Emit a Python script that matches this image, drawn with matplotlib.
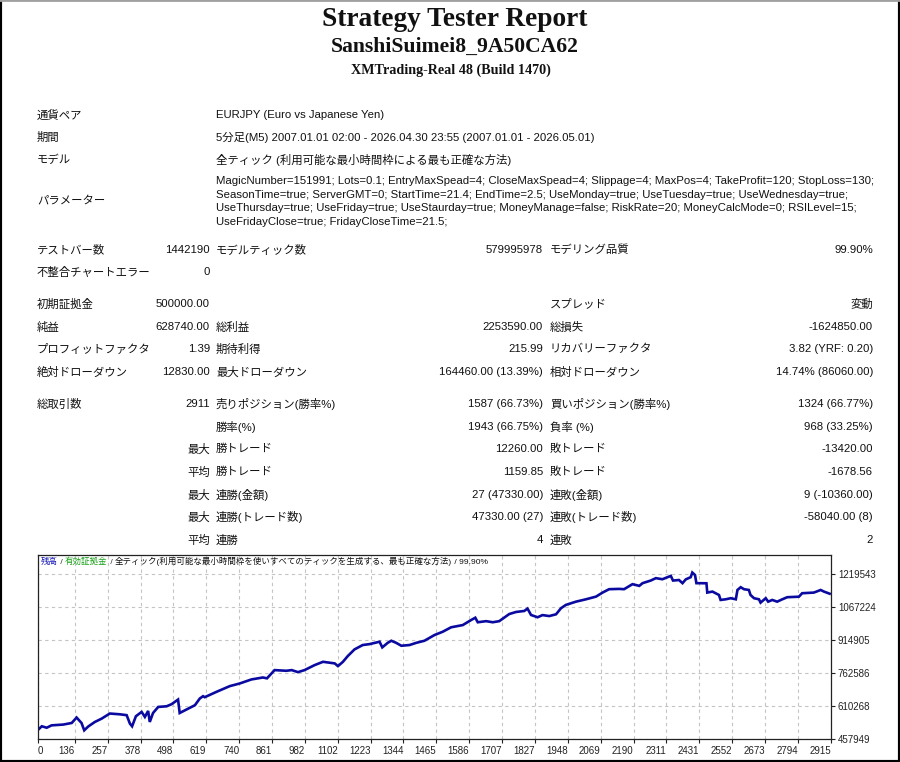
import matplotlib.pyplot as plt
from matplotlib.lines import Line2D
from matplotlib.offsetbox import TextArea, HPacker, AnchoredOffsetbox

W, H = 900, 762

# header
title = 'Strategy Tester Report'
ea_name = 'SanshiSuimei8_9A50CA62'
server = 'XMTrading-Real 48 (Build 1470)'

# settings block
info_labels = ['通貨ペア', '期間', 'モデル']
info_values = [
    'EURJPY (Euro vs Japanese Yen)',
    '5分足(M5) 2007.01.01 02:00 - 2026.04.30 23:55 (2007.01.01 - 2026.05.01)',
    '全ティック (利用可能な最小時間枠による最も正確な方法)',
]
param_label = 'パラメーター'
param_lines = [
    'MagicNumber=151991; Lots=0.1; EntryMaxSpead=4; CloseMaxSpead=4; Slippage=4; MaxPos=4; TakeProfit=120; StopLoss=130;',
    'SeasonTime=true; ServerGMT=0; StartTime=21.4; EndTime=2.5; UseMonday=true; UseTuesday=true; UseWednesday=true;',
    'UseThursday=true; UseFriday=true; UseStaurday=true; MoneyManage=false; RiskRate=20; MoneyCalcMode=0; RSILevel=15;',
    'UseFridayClose=true; FridayCloseTime=21.5;',
]

# results table: label1, value1, label2, value2, label3, value3
stat_rows = [
    ('テストバー数', '1442190', 'モデルティック数', '579995978', 'モデリング品質', '99.90%'),
    ('不整合チャートエラー', '0', '', '', '', ''),
    ('初期証拠金', '500000.00', '', '', 'スプレッド', '変動'),
    ('純益', '628740.00', '総利益', '2253590.00', '総損失', '-1624850.00'),
    ('プロフィットファクタ', '1.39', '期待利得', '215.99', 'リカバリーファクタ', '3.82 (YRF: 0.20)'),
    ('絶対ドローダウン', '12830.00', '最大ドローダウン', '164460.00 (13.39%)', '相対ドローダウン', '14.74% (86060.00)'),
    ('総取引数', '2911', '売りポジション(勝率%)', '1587 (66.73%)', '買いポジション(勝率%)', '1324 (66.77%)'),
    ('', '', '勝率(%)', '1943 (66.75%)', '負率 (%)', '968 (33.25%)'),
    ('', '最大', '勝トレード', '12260.00', '敗トレード', '-13420.00'),
    ('', '平均', '勝トレード', '1159.85', '敗トレード', '-1678.56'),
    ('', '最大', '連勝(金額)', '27 (47330.00)', '連敗(金額)', '9 (-10360.00)'),
    ('', '最大', '連勝(トレード数)', '47330.00 (27)', '連敗(トレード数)', '-58040.00 (8)'),
    ('', '平均', '連勝', '4', '連敗', '2'),
]
row_y = [250, 272, 304, 327, 349, 372, 404, 427, 449, 472, 495, 517, 540]

# balance curve
trades = [0, 14, 32, 50, 93, 124, 142, 160, 170, 185, 209, 234, 264, 301, 326,
          338, 346, 360, 381, 393, 405, 411, 423, 442, 473, 491, 515, 521, 546,
          577, 595, 607, 613, 656, 705, 742, 785, 827, 842, 870, 913, 933, 956,
          980, 1017, 1048, 1072, 1091, 1103, 1121, 1139, 1164, 1194, 1219, 1256,
          1266, 1286, 1299, 1317, 1336, 1366, 1391, 1421, 1458, 1488, 1519, 1562,
          1593, 1608, 1617, 1648, 1672, 1696, 1733, 1758, 1788, 1800, 1813, 1837,
          1855, 1880, 1905, 1923, 1941, 1978, 2015, 2052, 2076, 2100, 2137, 2155,
          2186, 2211, 2223, 2253, 2272, 2296, 2321, 2327, 2335, 2357, 2370, 2382,
          2400, 2406, 2416, 2421, 2458, 2461, 2480, 2504, 2510, 2529, 2547, 2566,
          2572, 2584, 2596, 2614, 2620, 2633, 2651, 2657, 2676, 2685, 2700, 2718,
          2737, 2755, 2798, 2810, 2853, 2878, 2890, 2911]
balance = [500000, 516700, 510000, 521000, 524600, 532000, 557000, 532000, 498000,
           516000, 536600, 552000, 575500, 572000, 568000, 529000, 516700, 563000,
           583000, 560000, 587600, 536600, 578000, 606000, 609000, 618600, 640000,
           578000, 594000, 614000, 645000, 655600, 651000, 675500, 702000, 714400,
           733000, 742000, 738000, 776000, 773000, 776000, 766700, 776000, 799000,
           814400, 810000, 807000, 794500, 814000, 840800, 871800, 891800, 896000,
           907000, 881000, 902000, 911600, 902000, 888500, 891800, 902000, 911600,
           938000, 953000, 973700, 984000, 1007500, 1018000, 997000, 1002000,
           997000, 1002000, 1035000, 1044500, 1049000, 1060000, 1030600, 1020000,
           1030000, 1025600, 1033800, 1061600, 1077000, 1092000, 1103000, 1115400,
           1134000, 1149600, 1151000, 1149600, 1172800, 1165000, 1177400, 1189500,
           1200600, 1195600, 1208000, 1211000, 1189500, 1192000, 1177400, 1195000,
           1205000, 1226500, 1215000, 1177400, 1177000, 1134000, 1138600, 1123000,
           1100000, 1103000, 1108000, 1103000, 1146000, 1158800, 1149600, 1146000,
           1123000, 1108000, 1103000, 1087600, 1108000, 1092000, 1100000, 1092000,
           1103000, 1112600, 1115000, 1131000, 1134000, 1146000, 1138600, 1128740]

x_ticks = [0, 136, 257, 378, 498, 619, 740, 861, 982, 1102, 1223, 1344, 1465,
           1586, 1707, 1827, 1948, 2069, 2190, 2311, 2431, 2552, 2673, 2794, 2915]
y_ticks = [457949, 610268, 762586, 914905, 1067224, 1219543]

legend_texts = ['残高', ' / ', '有効証拠金', ' / ',
                '全ティック(利用可能な最小時間枠を使いすべてのティックを生成する、最も正確な方法)',
                ' / 99.90%']
legend_colors = ['#1414b4', '#333333', '#18a018', '#333333', '#111111', '#111111']

plt.rcParams['font.family'] = ['Liberation Sans', 'Noto Sans CJK JP']

fig = plt.figure(figsize=(W / 100, H / 100), dpi=100)
fig.patch.set_facecolor('white')


def put(x, y, s, ha='left', size=8.2, **kw):
    fig.text(x / W, 1 - y / H, s, ha=ha, va='center', fontsize=size, color='#111111', **kw)


# frame around the report
fig.add_artist(Line2D([0, 0], [0, 1], transform=fig.transFigure, color='black', lw=3))
fig.add_artist(Line2D([1, 1], [0, 1], transform=fig.transFigure, color='black', lw=3))
fig.add_artist(Line2D([0, 1], [0, 0], transform=fig.transFigure, color='black', lw=3))
fig.add_artist(Line2D([0, 1], [1, 1], transform=fig.transFigure, color='#a0a0a0', lw=2))

# header
put(455, 20, title, ha='center', size=19.7, family='Liberation Serif', weight='bold')
put(455, 47, ea_name, ha='center', size=15.6, family='Liberation Serif', weight='bold')
put(451, 70, server, ha='center', size=10.2, family='Liberation Serif', weight='bold')

# settings
for lab, val, y in zip(info_labels, info_values, [115, 137, 160]):
    put(37, y, lab)
    put(216, y, val)
put(37, 201, param_label)
for i, line in enumerate(param_lines):
    put(216, 181 + i * 13.5, line)

# results
for row, y in zip(stat_rows, row_y):
    l1, v1, l2, v2, l3, v3 = row
    put(37, y, l1)
    put(210, y, v1, ha='right')
    put(216, y, l2)
    put(543, y, v2, ha='right')
    put(550, y, l3)
    put(873, y, v3, ha='right')

# balance chart
ax = fig.add_axes([38 / W, 1 - 739 / H, 793 / W, 184 / H])
ax.plot(trades, balance, color='#0a0aa0', lw=1.9, solid_joinstyle='miter')
ax.set_xlim(0, 2916)
ax.set_ylim(457949, 1307500)

ax.set_xticks(x_ticks)
ax.set_xticklabels([str(t) for t in x_ticks])
for i, lbl in enumerate(ax.get_xticklabels()):
    lbl.set_ha('left' if i == 0 else 'right')
ax.yaxis.tick_right()
ax.set_yticks(y_ticks)
ax.set_yticklabels([str(v) for v in y_ticks])
ax.tick_params(axis='both', length=3, width=0.8, labelsize=7, colors='#222222', pad=2)
ax.grid(True, linestyle=(0, (3, 3)), color='#c4c4c4', lw=0.8)
for sp in ax.spines.values():
    sp.set_color('#222222')
    sp.set_linewidth(0.9)

parts = [TextArea(t, textprops=dict(color=c, fontsize=6.1)) for t, c in zip(legend_texts, legend_colors)]
box = HPacker(children=parts, align='baseline', pad=0, sep=0)
anchored = AnchoredOffsetbox(loc='upper left', child=box, pad=0, borderpad=0, frameon=False,
                             bbox_to_anchor=(41 / W, 1 - 557 / H), bbox_transform=fig.transFigure)
ax.add_artist(anchored)

fig.savefig('out.png', dpi=100, facecolor='white')
